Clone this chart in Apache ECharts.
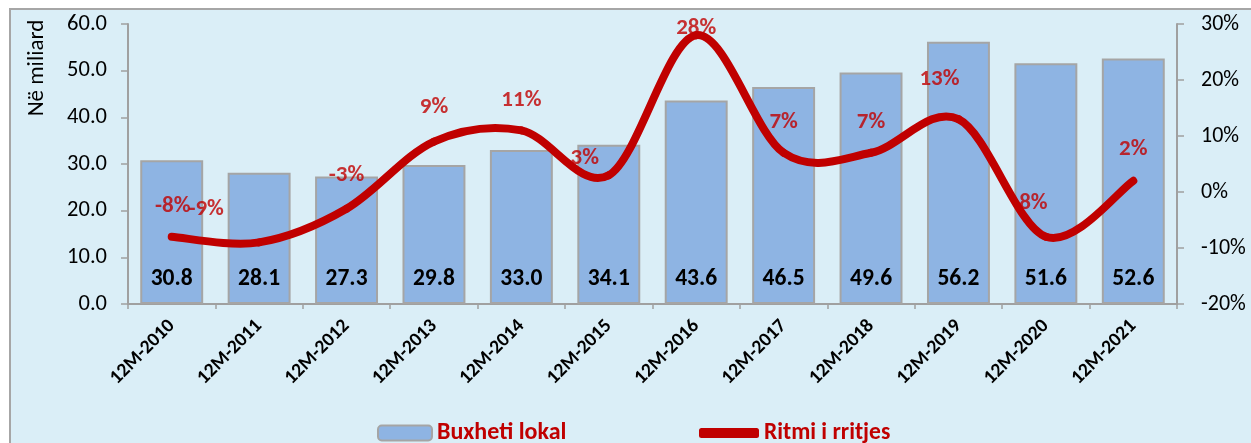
<!DOCTYPE html>
<html>
<head>
<meta charset="utf-8">
<script src="https://cdn.jsdelivr.net/npm/echarts@6/dist/echarts.min.js"></script>
<style>
  html, body { margin: 0; padding: 0; background: #ffffff; overflow: hidden; }
  #frame {
    position: absolute; left: 9px; top: 8px; width: 1400px; height: 600px;
    background: #daeef7; border-top: 2px solid #a6a6a6; border-left: 2px solid #a6a6a6;
  }
  #chart { position: absolute; left: 0; top: 0; width: 1251px; height: 443px; }
</style>
</head>
<body>
<div id="frame"></div>
<div id="chart"></div>
<script>
// Years on the category axis
const categories = ['12M-2010', '12M-2011', '12M-2012', '12M-2013', '12M-2014', '12M-2015',
                    '12M-2016', '12M-2017', '12M-2018', '12M-2019', '12M-2020', '12M-2021'];
// Local budget, billions
const budget = [30.8, 28.1, 27.3, 29.8, 33.0, 34.1, 43.6, 46.5, 49.6, 56.2, 51.6, 52.6];
// Annual growth rate, percent
const growth = [-8, -9, -3, 9, 11, 3, 28, 7, 7, 13, -8, 2];
// Left and right axis ranges
const leftTicks = { min: 0, max: 60, step: 10 };
const rightTicks = { min: -20, max: 30, step: 10 };

// Nudges for growth labels so they don't collide
const growthLabelShift = [[1, 2], [-53, -1], [0, -1], [0, -2], [0, 2], [-24, 16],
                          [0, 26], [0, 2], [0, 2], [-19, -7], [-16, -1], [0, 1]];

const FONT = 'Carlito, Lato, "Liberation Sans", sans-serif';
const RED = '#c00000';
const AXIS = '#a0a0a0';

// Smooth growth curve: each segment is a cubic Bezier whose control points
// follow the neighbouring points (Catmull-Rom style, 1/6 tangent).
function renderGrowthSegment(params, api) {
  const i = params.dataIndex;
  const n = growth.length;
  if (i >= n - 1) return { type: 'group', children: [] };
  const pt = k => {
    const j = Math.max(0, Math.min(n - 1, k));
    return api.coord([j, growth[j]]);
  };
  const p0 = pt(i - 1), p1 = pt(i), p2 = pt(i + 1), p3 = pt(i + 2);
  return {
    type: 'bezierCurve',
    shape: {
      x1: p1[0], y1: p1[1], x2: p2[0], y2: p2[1],
      cpx1: p1[0] + (p2[0] - p0[0]) / 6, cpy1: p1[1] + (p2[1] - p0[1]) / 6,
      cpx2: p2[0] - (p3[0] - p1[0]) / 6, cpy2: p2[1] - (p3[1] - p1[1]) / 6
    },
    style: { stroke: RED, lineWidth: 8, fill: null, lineCap: 'round', lineJoin: 'round' }
  };
}

const chart = echarts.init(document.getElementById('chart'), null, { renderer: 'canvas' });

chart.setOption({
  backgroundColor: 'transparent',
  animation: false,
  textStyle: { fontFamily: FONT },
  grid: { left: 128, right: 74, top: 24, bottom: 139, containLabel: false },
  graphic: [{
    type: 'text',
    x: 37, y: 68,
    rotation: Math.PI / 2,
    style: {
      text: 'Në miliard', font: '23px ' + FONT, fill: '#000',
      textAlign: 'center', textVerticalAlign: 'middle'
    }
  }],
  legend: [{
    data: ['Buxheti lokal'],
    left: 377, top: 421, padding: 0,
    itemWidth: 54, itemHeight: 15,
    textStyle: { color: RED, fontWeight: 'bold', fontSize: 24, fontFamily: FONT }
  }, {
    data: [{ name: 'Ritmi i rritjes', icon: 'roundRect' }],
    left: 699, top: 421, padding: 0,
    itemWidth: 60, itemHeight: 10,
    itemStyle: { color: RED, borderWidth: 0 },
    textStyle: { color: RED, fontWeight: 'bold', fontSize: 23.5, fontFamily: FONT }
  }],
  xAxis: {
    type: 'category',
    data: categories,
    boundaryGap: true,
    axisLine: { lineStyle: { color: AXIS, width: 2 } },
    axisTick: { show: true, length: 5, lineStyle: { color: AXIS, width: 1.5 } },
    axisLabel: {
      rotate: 45, margin: 19, color: '#000', fontWeight: 'bold', fontSize: 19.5, fontFamily: FONT
    }
  },
  yAxis: [{
    type: 'value',
    min: leftTicks.min, max: leftTicks.max, interval: leftTicks.step,
    axisLine: { show: true, lineStyle: { color: AXIS, width: 2 } },
    axisTick: { show: true, length: 7, lineStyle: { color: AXIS, width: 1.5 } },
    splitLine: { show: false },
    axisLabel: {
      margin: 21, color: '#000', fontSize: 22.5, fontFamily: FONT,
      formatter: v => v.toFixed(1)
    }
  }, {
    type: 'value',
    min: rightTicks.min, max: rightTicks.max, interval: rightTicks.step,
    position: 'right',
    axisLine: { show: true, lineStyle: { color: AXIS, width: 2 } },
    axisTick: { show: true, length: 7, lineStyle: { color: AXIS, width: 1.5 } },
    splitLine: { show: false },
    axisLabel: {
      margin: 24, color: '#000', fontSize: 22, fontFamily: FONT,
      formatter: v => v + '%'
    }
  }],
  series: [{
    name: 'Buxheti lokal',
    type: 'bar',
    yAxisIndex: 0,
    data: budget,
    barWidth: '72%',
    z: 1,
    itemStyle: { color: '#8eb4e3', borderColor: '#a5a5a5', borderWidth: 2 },
    label: {
      show: true, position: 'insideBottom', distance: 13,
      color: '#000', fontWeight: 'bold', fontSize: 23.5, fontFamily: FONT,
      formatter: p => p.value.toFixed(1)
    }
  }, {
    // growth labels sit underneath the curve
    name: 'growth-labels',
    type: 'scatter',
    yAxisIndex: 1,
    symbolSize: 0,
    z: 2,
    silent: true,
    data: growth.map((g, i) => ({
      value: g,
      label: { offset: growthLabelShift[i] }
    })),
    label: {
      show: true, position: 'top', distance: 21,
      color: RED, fontWeight: 'bold', fontSize: 23, fontFamily: FONT,
      formatter: p => p.value + '%'
    }
  }, {
    name: 'Ritmi i rritjes',
    type: 'custom',
    yAxisIndex: 1,
    z: 3,
    silent: true,
    data: growth.map((g, i) => [i, g]),
    encode: { x: 0, y: 1 },
    itemStyle: { color: RED },
    renderItem: renderGrowthSegment
  }]
});
</script>
</body>
</html>
